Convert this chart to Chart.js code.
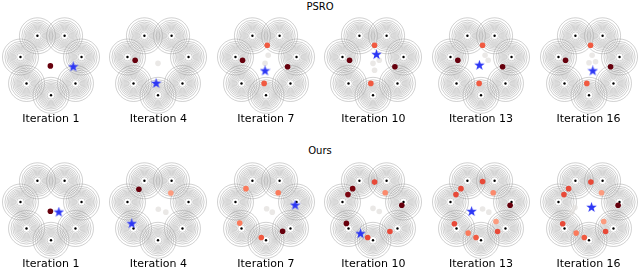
<!DOCTYPE html>
<html>
<head>
<meta charset="utf-8">
<script src="https://cdn.jsdelivr.net/npm/chart.js@4/dist/chart.umd.min.js"></script>
<style>
  body { margin: 0; width: 640px; height: 268px; background: #fff; position: relative; overflow: hidden;
         font-family: "DejaVu Sans", sans-serif; color: #000; }
  canvas { position: absolute; }
  .lbl { position: absolute; width: 120px; text-align: center; white-space: nowrap; }
</style>
</head>
<body>
<script>
// panel labels
const iterations = [1, 4, 7, 10, 13, 16];
const rowTitles = ['PSRO', 'Ours'];

// the 7 gaussian modes on the unit circle
const modeX = [0, 0.782, 0.975, 0.434, -0.434, -0.975, -0.782];
const modeY = [-1, -0.623, 0.223, 0.901, 0.901, 0.223, -0.623];

// PSRO population per iteration (x, y, weight)
const psroX = [
  [-0.02],
  [-0.73, 0.0],
  [0.04, -0.75, 0.69, -0.06, 0.07, -0.03],
  [0.05, -0.75, 0.70, -0.07, 0.0, 0.05, 0.2],
  [0.05, -0.74, 0.69, -0.06, 0.13, 0.23],
  [0.05, -0.75, 0.69, -0.07, 0.1, 0.0, 0.21]
];
const psroY = [
  [-0.06],
  [0.12, 0.02],
  [0.60, 0.12, -0.09, -0.62, 0.28, 0.02],
  [0.60, 0.12, -0.09, -0.62, 0.02, -0.2, 0.12],
  [0.60, 0.12, -0.09, -0.62, 0.28, 0.12],
  [0.60, 0.12, -0.09, -0.62, 0.28, 0.04, 0.07]
];
const psroW = [
  [1],
  [1, 0.02],
  [0.55, 1, 1, 0.55, 0.02, 0.02],
  [0.55, 1, 1, 0.55, 0.02, 0.02, 0.02],
  [0.55, 1, 1, 0.55, 0.02, 0.02],
  [0.55, 1, 1, 0.55, 0.02, 0.02, 0.02]
];
const psroStarX = [0.71, -0.06, -0.03, 0.11, -0.05, 0.12];
const psroStarY = [-0.09, -0.62, -0.22, 0.30, -0.04, -0.22];

// Ours population per iteration
const oursX = [
  [-0.02],
  [-0.61, 0.41, 0.01, 0.25],
  [-0.64, 0.39, -0.84, 0.53, -0.15, 0.02, 0.2],
  [0.05, -0.65, -0.80, 0.39, 0.92, -0.85, -0.17, 0.54, 0.0, 0.2],
  [0.05, -0.64, -0.80, 0.39, 0.93, -0.85, 0.48, 0.53, -0.41, -0.16, 0.05, 0.25],
  [0.06, -0.65, -0.80, 0.40, 0.93, -0.84, 0.47, 0.53, -0.41, -0.15, -0.55, -0.45]
];
const oursY = [
  [-0.07],
  [0.63, 0.51, -0.01, -0.1],
  [0.65, 0.52, -0.45, -0.71, -0.91, 0.01, -0.1],
  [0.86, 0.65, 0.46, 0.52, 0.12, -0.46, -0.91, -0.72, 0.02, -0.08],
  [0.88, 0.65, 0.46, 0.52, 0.12, -0.47, -0.40, -0.72, -0.77, -0.91, 0.0, -0.1],
  [0.86, 0.65, 0.46, 0.52, 0.12, -0.47, -0.40, -0.72, -0.77, -0.91, -0.1, 0.05]
];
const oursW = [
  [1],
  [1, 0.35, 0.02, 0.02],
  [0.45, 0.45, 0.45, 1, 0.55, 0.02, 0.02],
  [0.6, 0.95, 0.95, 0.4, 1, 1, 0.6, 0.6, 0.02, 0.02],
  [0.6, 0.6, 0.6, 0.4, 1, 0.6, 0.35, 0.6, 0.45, 0.55, 0.02, 0.02],
  [0.6, 0.6, 0.6, 0.35, 1, 0.6, 0.35, 0.6, 0.45, 0.55, 0.02, 0.02]
];
const oursStarX = [0.25, -0.84, 0.93, -0.40, -0.30, 0.08];
const oursStarY = [-0.10, -0.47, 0.12, -0.79, -0.08, 0.05];

// contour ring radii (pixels) around each mode
const ringPx = [3.9, 5.2, 6.4, 7.5, 8.6, 9.7, 10.9, 12.2, 13.7, 15.6, 18.0];

// simple "Reds" colormap lookup
const redsStops = [[255,245,240],[252,187,161],[251,106,74],[203,24,29],[103,0,13]];
function reds(w) {
  if (w < 0.05) return 'rgba(225,222,220,0.7)';
  const t = Math.max(0, Math.min(1, w)) * (redsStops.length - 1);
  const i = Math.min(Math.floor(t), redsStops.length - 2);
  const f = t - i;
  const c = redsStops[i].map((v, k) => Math.round(v + (redsStops[i + 1][k] - v) * f));
  return `rgb(${c[0]},${c[1]},${c[2]})`;
}

// filled five-point star marker
function makeStar(size, color) {
  const c = document.createElement('canvas');
  c.width = size; c.height = size;
  const g = c.getContext('2d');
  const r = size / 2, ri = r * 0.4;
  g.beginPath();
  for (let k = 0; k < 10; k++) {
    const a = -Math.PI / 2 + k * Math.PI / 5;
    const rr = k % 2 === 0 ? r : ri;
    g.lineTo(r + rr * Math.cos(a), r + rr * Math.sin(a));
  }
  g.closePath();
  g.fillStyle = color;
  g.fill();
  return c;
}
const starImg = makeStar(11, 'rgb(45,55,245)');

const SIZE = 108;
const HALF = 1.725;
const colX = [50.8, 158.35, 265.9, 373.45, 481, 588.55];
const rowY = [63.8, 208.6];

function addText(text, cx, top, size) {
  const d = document.createElement('div');
  d.className = 'lbl';
  d.textContent = text;
  d.style.left = (cx - 60) + 'px';
  d.style.top = top + 'px';
  d.style.fontSize = size + 'px';
  d.style.lineHeight = size + 'px';
  document.body.appendChild(d);
}

function drawPanel(cx, cy, xs, ys, ws, sx, sy) {
  const cv = document.createElement('canvas');
  cv.width = SIZE; cv.height = SIZE;
  cv.style.left = (cx - SIZE / 2) + 'px';
  cv.style.top = (cy - SIZE / 2) + 'px';
  document.body.appendChild(cv);

  const modes = modeX.map((x, i) => ({ x: x, y: modeY[i] }));
  const datasets = [];

  ringPx.forEach((r, i) => {
    datasets.push({
      data: modes,
      pointRadius: r,
      pointBackgroundColor: 'rgba(0,0,0,0)',
      pointBorderColor: 'rgba(145,145,145,0.7)',
      pointBorderWidth: 0.6,
      order: 10 + i
    });
  });

  datasets.push({
    data: modes,
    pointRadius: 1.2,
    pointBackgroundColor: '#000',
    pointBorderWidth: 0,
    order: 3
  });

  datasets.push({
    data: xs.map((x, i) => ({ x: x, y: ys[i] })),
    pointRadius: 2.8,
    pointBackgroundColor: ws.map(reds),
    pointBorderWidth: 0,
    order: 2
  });

  datasets.push({
    data: [{ x: sx, y: sy }],
    pointStyle: starImg,
    order: 1
  });

  new Chart(cv.getContext('2d'), {
    type: 'scatter',
    data: { datasets: datasets.map(d => Object.assign({ clip: false, showLine: false }, d)) },
    options: {
      responsive: false,
      animation: false,
      events: [],
      layout: { padding: 0, autoPadding: false },
      plugins: { legend: { display: false }, tooltip: { enabled: false } },
      scales: {
        x: { type: 'linear', min: -HALF, max: HALF, display: false },
        y: { type: 'linear', min: -HALF, max: HALF, display: false }
      }
    }
  });
}

const rows = [
  [psroX, psroY, psroW, psroStarX, psroStarY],
  [oursX, oursY, oursW, oursStarX, oursStarY]
];

addText(rowTitles[0], 320, 2, 10);
addText(rowTitles[1], 320, 146, 10);

rows.forEach((r, ri) => {
  iterations.forEach((it, i) => {
    drawPanel(colX[i], rowY[ri], r[0][i], r[1][i], r[2][i], r[3][i], r[4][i]);
    addText('Iteration ' + it, colX[i], ri === 0 ? 113.4 : 258.2, 11);
  });
});
</script>
</body>
</html>
